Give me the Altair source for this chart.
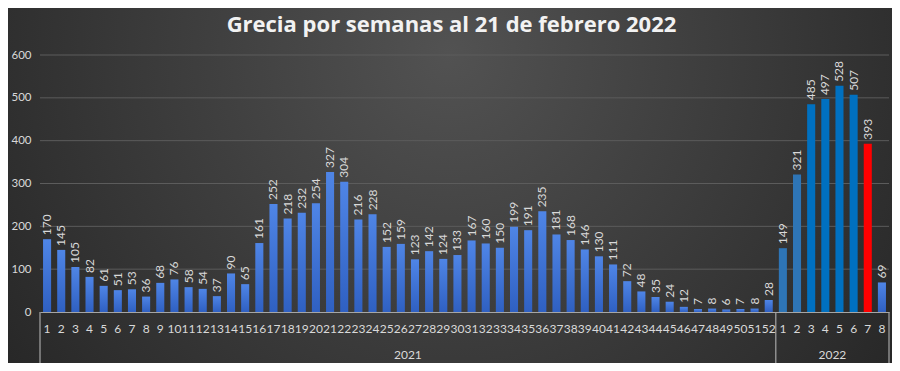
import altair as alt
import pandas as pd

weeks_2021 = list(range(1, 53))
values_2021 = [170, 145, 105, 82, 61, 51, 53, 36, 68, 76, 58, 54, 37, 90, 65, 161,
               252, 218, 232, 254, 327, 304, 216, 228, 152, 159, 123, 142, 124, 133,
               167, 160, 150, 199, 191, 235, 181, 168, 146, 130, 111, 72, 48, 35, 24,
               12, 7, 8, 6, 7, 8, 28]
weeks_2022 = list(range(1, 9))
values_2022 = [149, 321, 485, 497, 528, 507, 393, 69]
groups_2022 = ["a", "a", "b", "b", "b", "b", "r", "g"]
y_ticks = [0, 100, 200, 300, 400, 500, 600]
grid_vals = [100, 200, 300, 400, 500, 600]
title_text = "Grecia por semanas al 21 de febrero 2022"

W, H = 849, 257

rows = []
for w, v in zip(weeks_2021, values_2021):
    rows.append({"cat": f"2021-{w}", "value": v, "grp": "g"})
for w, v, g in zip(weeks_2022, values_2022, groups_2022):
    rows.append({"cat": f"2022-{w}", "value": v, "grp": g})
df = pd.DataFrame(rows)
cats = list(df["cat"])

txt = "#d9d9d9"
font = "Lato"

xscale = alt.Scale(domain=cats, paddingInner=0, paddingOuter=0)
xaxis = alt.Axis(title=None, labelExpr="split(datum.value,'-')[1]", labelAngle=0,
                 ticks=False, domainColor="#a6a6a6", domainWidth=1.2, labelColor=txt,
                 labelFont=font, labelFontSize=12, labelPadding=11, labelOverlap=False,
                 labelBound=False, labelFlush=False, zindex=1)
X = alt.X("cat:N", sort=cats, scale=xscale, axis=xaxis)
yscale = alt.Scale(domain=[0, 600], nice=False)
Y = alt.Y("value:Q", scale=yscale,
          axis=alt.Axis(values=y_ticks, grid=False, ticks=False, domain=False,
                        labelColor=txt, labelFont=font, labelFontSize=11.5,
                        labelPadding=9, title=None, zindex=1))

bg = alt.Chart(pd.DataFrame({"k": [0]})).mark_rect(
    color={"gradient": "radial", "x1": 0.5, "y1": 0.35, "r1": 0,
           "x2": 0.5, "y2": 0.35, "r2": 0.75,
           "stops": [{"offset": 0, "color": "#525252"},
                     {"offset": 1, "color": "#1e1e1e"}]}
).encode(x=alt.value(-32), x2=alt.value(W + 3), y=alt.value(-47), y2=alt.value(H + 51))

title = alt.Chart(pd.DataFrame({"t": [title_text]})).mark_text(
    font="Open Sans", fontSize=22, fontWeight="bold", color="#f2f2f2",
    align="center", baseline="alphabetic"
).encode(x=alt.value(W / 2 - 13), y=alt.value(-23), text="t:N")

grid = alt.Chart(pd.DataFrame({"value": grid_vals})).mark_rule(
    color="#5c5c5c", strokeWidth=1).encode(y=alt.Y("value:Q", scale=yscale))

grad_bars = alt.Chart(df).transform_filter(alt.datum.grp == "g").mark_bar(
    width=alt.RelativeBandSize(0.57),
    color={"gradient": "linear", "x1": 0, "y1": 0, "x2": 0, "y2": 1,
           "stops": [{"offset": 0, "color": "#4f85e6"},
                     {"offset": 1, "color": "#2f60c2"}]}
).encode(x=X, y=Y)

col_bars = alt.Chart(df).transform_filter(alt.datum.grp != "g").mark_bar(
    width=alt.RelativeBandSize(0.57)
).encode(x=X, y=Y,
         color=alt.Color("grp:N", legend=None,
                         scale=alt.Scale(domain=["a", "b", "r"],
                                         range=["#2E75B6", "#0070C0", "#FF0000"])))

labels = alt.Chart(df).mark_text(angle=270, align="left", baseline="middle", dx=4,
                                 color=txt, font=font, fontSize=12).encode(
    x=X, y=Y, text="value:Q")

grp_labels = alt.Chart(pd.DataFrame({"cat": ["2021-27", "2022-5"], "label": ["2021", "2022"]})
                       ).mark_text(color=txt, font=font, fontSize=12, baseline="middle").encode(
    x=alt.X("cat:N", sort=cats, scale=xscale, bandPosition=0), y=alt.value(H + 43), text="label:N")

sep0 = alt.Chart(pd.DataFrame({"cat": ["2021-1", "2022-1"]})).mark_rule(
    color="#a6a6a6", strokeWidth=1.2).encode(
    x=alt.X("cat:N", sort=cats, scale=xscale, bandPosition=0), y=alt.value(H), y2=alt.value(H + 51))
sep1 = alt.Chart(pd.DataFrame({"cat": ["2022-8"]})).mark_rule(
    color="#a6a6a6", strokeWidth=1.2).encode(
    x=alt.X("cat:N", sort=cats, scale=xscale, bandPosition=1), y=alt.value(H), y2=alt.value(H + 51))

chart = alt.layer(bg, title, grid, grad_bars, col_bars, labels, grp_labels, sep0, sep1).properties(
    width=W, height=H,
    autosize=alt.AutoSizeParams(type="none"),
    padding={"left": 32, "top": 47, "right": 3, "bottom": 51},
    background="#2a2a2a",
).configure_view(stroke=None)

chart.save("out.html", embed_options={"renderer": "svg", "actions": False})
